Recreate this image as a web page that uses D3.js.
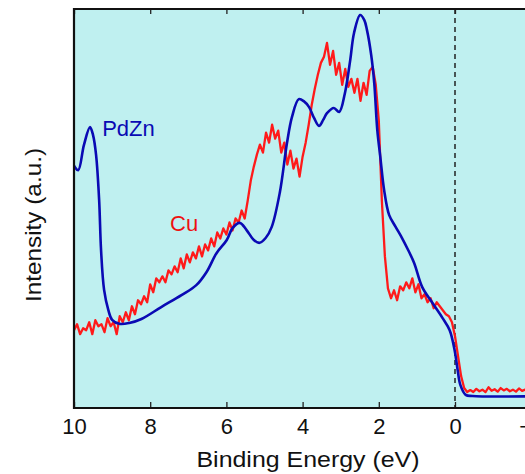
<!DOCTYPE html>
<html>
<head>
<meta charset="utf-8">
<script src="https://cdn.jsdelivr.net/npm/d3@7"></script>
<style>
  body { margin: 0; background: #fff; }
  text { font-family: Arial, "Liberation Sans", sans-serif; }
</style>
</head>
<body>
<div id="chart"></div>
<script>
// dimensions
const width = 525, height = 474;
const margin = { top: 9, left: 74, bottom: 66 };

// PdZn spectrum : [binding energy (eV), intensity (a.u.)]
const pdznEnergy = [10.0, 9.89, 9.74, 9.58, 9.5, 9.42, 9.34, 9.29, 9.21, 9.1, 9.0, 8.81, 8.55, 8.23, 7.71, 7.18, 6.79, 6.52, 6.26, 5.99, 5.84, 5.65, 5.47, 5.28, 5.13, 4.97, 4.81, 4.6, 4.41, 4.28, 4.1, 3.97, 3.83, 3.7, 3.57, 3.46, 3.36, 3.18, 3.04, 2.89, 2.75, 2.65, 2.49, 2.38, 2.31, 2.2, 2.12, 2.04, 1.96, 1.86, 1.73, 1.57, 1.39, 1.23, 1.07, 0.86, 0.59, 0.33, 0.14, 0.01, -0.07, -0.14, -0.28, -0.46, -2.6];
const pdznIntensity = [60.7, 59.6, 65.9, 70.4, 68.4, 63.4, 52.1, 39.6, 29.6, 24.6, 22.1, 21.1, 21.3, 22.3, 25.3, 28.3, 30.8, 34.1, 38.8, 42.1, 45.1, 46.4, 44.6, 42.1, 41.4, 42.6, 45.4, 53.9, 66.4, 72.9, 77.4, 76.9, 75.4, 72.7, 70.7, 72.2, 73.9, 75.2, 74.2, 78.9, 87.2, 94.0, 98.5, 97.2, 94.7, 88.5, 81.5, 69.7, 62.9, 54.6, 48.4, 45.6, 42.6, 39.6, 36.3, 30.3, 26.3, 22.6, 19.5, 14.5, 9.5, 5.8, 3.3, 3.0, 3.0];

// Cu spectrum : sampled every 0.08 eV starting at 10 eV
const cuStart = 10, cuStep = 0.08;
const cuIntensity = [
  19.5, 21, 18.5, 20, 19.5, 21.5, 18.5, 22, 20.5, 21, 19, 22.5, 20.5, 21.5, 18.5, 23, 21.5, 24, 22, 25.5,
  23.5, 27, 26, 28, 26.5, 31, 29, 32.5, 31.5, 33, 31.5, 34.5, 33.5, 35.5, 34, 37.5, 35, 38.5, 36.5, 39,
  37.5, 40.5, 38, 41, 39.5, 42.5, 40.5, 44, 42.5, 45, 43.5, 46.5, 44.5, 47.5, 46.5, 49.5, 47.5, 52, 57, 60.5,
  63.5, 66, 64, 69, 66.5, 71, 67.5, 69.5, 64, 66.5, 61, 64.5, 60, 62.5, 58, 63, 66.5, 71, 76, 80,
  83.5, 86.5, 88, 91.5, 86, 89.5, 83.5, 86.5, 81, 85, 80.5, 82.5, 79, 82.5, 77, 81.5, 78.5, 84.5, 85.5, 81,
  72, 52, 38, 30, 27.5, 29.5, 27, 30.5, 29.5, 31.5, 30, 32.5, 29, 31, 27.5, 28.5, 26.5, 27.5, 25, 26.5,
  25.5, 24.5, 23.5, 23, 21.5, 18, 13, 8, 5, 4,
  4.5, 4, 4.8, 4.2, 4.6, 4, 5.2, 4.3, 4.7, 4.1, 5, 4.4, 4.8, 4.2, 4.6, 4.1, 4.9, 4.3, 4.6, 4.2,
  4.5, 4.1, 4.7, 4.3, 4.5, 4.2, 4.6, 4.3
];

const xTicks = [10, 8, 6, 4, 2, 0, -2];
const labels = [
  { text: "PdZn", energy: 9.26, value: 68.2, color: "#0a0ab4" },
  { text: "Cu", energy: 7.48, value: 44.4, color: "#ee1111" }
];

const svg = d3.select("#chart").append("svg")
  .attr("width", width)
  .attr("height", height);

const x = d3.scaleLinear().domain([10, -2.5]).range([margin.left, margin.left + 12.5 * 38.1]);
const y = d3.scaleLinear().domain([0, 100]).range([height - margin.bottom, margin.top]);

const x0 = x(10), x1 = x(-2.5), yTop = y(100), yBot = y(0);

svg.append("clipPath").attr("id", "clip")
  .append("rect").attr("x", x0).attr("y", yTop).attr("width", x1 - x0).attr("height", yBot - yTop);

// fond
svg.append("rect")
  .attr("x", x0).attr("y", yTop)
  .attr("width", x1 - x0).attr("height", yBot - yTop)
  .attr("fill", "#bff0f0");

// ligne du niveau de Fermi
svg.append("line")
  .attr("x1", x(0)).attr("x2", x(0))
  .attr("y1", yTop).attr("y2", yBot)
  .attr("stroke", "#222")
  .attr("stroke-width", 1.5)
  .attr("stroke-dasharray", "5,4");

const pdzn = pdznEnergy.map((e, i) => [e, pdznIntensity[i]]);
const cu = cuIntensity.map((v, i) => [cuStart - i * cuStep, v]);

const line = d3.line().x(d => x(d[0])).y(d => y(d[1]));

const plot = svg.append("g").attr("clip-path", "url(#clip)");

plot.append("path")
  .datum(cu)
  .attr("fill", "none")
  .attr("stroke", "#ff1a1a")
  .attr("stroke-width", 2.3)
  .attr("stroke-linejoin", "round")
  .attr("d", line);

plot.append("path")
  .datum(pdzn)
  .attr("fill", "none")
  .attr("stroke", "#0a0ab4")
  .attr("stroke-width", 2.6)
  .attr("stroke-linejoin", "round")
  .attr("d", line.curve(d3.curveCatmullRom));

// axes (ticks vers l'intérieur, en bas et en haut)
const xAxis = svg.append("g")
  .attr("transform", `translate(0,${yBot})`)
  .call(d3.axisBottom(x).tickValues(xTicks).tickSizeInner(-6).tickSizeOuter(0).tickPadding(10).tickFormat(d3.format("d")));
xAxis.select(".domain").remove();
xAxis.selectAll("line").attr("stroke", "#222").attr("stroke-width", 1.3);
xAxis.selectAll("text").attr("font-size", 22).attr("fill", "#111").attr("dy", "0.72em");

const xAxisTop = svg.append("g")
  .attr("transform", `translate(0,${yTop})`)
  .call(d3.axisTop(x).tickValues(xTicks).tickSizeInner(-5).tickSizeOuter(0).tickFormat(""));
xAxisTop.select(".domain").remove();
xAxisTop.selectAll("line").attr("stroke", "#222").attr("stroke-width", 1.3);

// cadre
svg.append("path")
  .attr("d", `M${x1},${yTop}H${x0}V${yBot}H${x1}`)
  .attr("fill", "none")
  .attr("stroke", "#111")
  .attr("stroke-width", 2.2);

// titres des axes
svg.append("text")
  .attr("x", 308).attr("y", 467)
  .attr("text-anchor", "middle")
  .attr("font-size", 22)
  .attr("textLength", 223)
  .attr("lengthAdjust", "spacingAndGlyphs")
  .attr("fill", "#111")
  .text("Binding Energy (eV)");

svg.append("text")
  .attr("transform", "translate(41,225) rotate(-90)")
  .attr("text-anchor", "middle")
  .attr("font-size", 22)
  .attr("textLength", 154)
  .attr("lengthAdjust", "spacingAndGlyphs")
  .attr("fill", "#111")
  .text("Intensity (a.u.)");

// étiquettes des courbes
svg.selectAll(".lbl")
  .data(labels)
  .join("text")
  .attr("class", "lbl")
  .attr("x", d => x(d.energy))
  .attr("y", d => y(d.value))
  .attr("font-size", 22)
  .attr("fill", d => d.color)
  .text(d => d.text);
</script>
</body>
</html>
